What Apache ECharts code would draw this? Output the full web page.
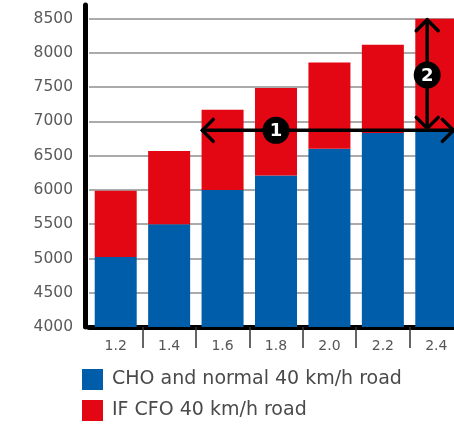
<!DOCTYPE html>
<html>
<head>
<meta charset="utf-8">
<script src="https://cdn.jsdelivr.net/npm/echarts@6/dist/echarts.min.js"></script>
<style>
html,body{margin:0;padding:0;background:#fff;}
#c{width:454px;height:425px;}
</style>
</head>
<body>
<div id="c"></div>
<script>
const categories = ['1.2', '1.4', '1.6', '1.8', '2.0', '2.2', '2.4'];
const choNormal = [5020, 5500, 6000, 6210, 6600, 6830, 6870];
const ifCfo = [970, 1070, 1170, 1280, 1260, 1290, 1630];
const seriesNames = ['CHO and normal 40 km/h road', 'IF CFO 40 km/h road'];
const yMin = 4000, yMaxLabel = 8500, yInterval = 500;
// annotation anchors (data values)
const arrow1FromCat = '1.6', arrow1ToCat = '2.4', arrow1LabelCat = '1.8';
const arrow2Cat = '2.4';

const lastIdx = categories.length - 1;
const arrowLevel = choNormal[lastIdx];
const arrowTop = choNormal[lastIdx] + ifCfo[lastIdx];

const BLUE = '#005DAA', RED = '#E30613';
const FONT = 'DejaVu Sans';

function chevron(tipX, tipY, dx1, dy1, dx2, dy2) {
  return {
    type: 'polyline',
    shape: { points: [[tipX + dx1, tipY + dy1], [tipX, tipY], [tipX + dx2, tipY + dy2]] },
    style: { stroke: '#000', lineWidth: 3.5, fill: null, lineCap: 'round', lineJoin: 'round' }
  };
}
function badge(cx, cy, txt) {
  return [
    { type: 'circle', shape: { cx: cx, cy: cy, r: 13.5 }, style: { fill: '#000' } },
    { type: 'text', style: { x: cx, y: cy + 1, text: txt, fill: '#fff', font: 'bold 18px ' + FONT, align: 'center', verticalAlign: 'middle' } }
  ];
}
function legendFor(name, top) {
  return {
    data: [name],
    orient: 'vertical',
    left: 82, top: top,
    padding: 0,
    itemWidth: 21, itemHeight: 21,
    icon: 'rect',
    textStyle: { fontFamily: FONT, fontSize: 19, color: '#4a4a4a', padding: [0, 0, 0, 4] }
  };
}

const chart = echarts.init(document.getElementById('c'), null, { renderer: 'canvas' });
chart.setOption({
  animation: false,
  backgroundColor: '#fff',
  grid: { left: 89, width: 374, top: 5, bottom: 98, containLabel: false, outerBoundsMode: 'none' },
  legend: [legendFor(seriesNames[0], 369), legendFor(seriesNames[1], 400)],
  xAxis: {
    type: 'category',
    data: categories,
    axisLine: { lineStyle: { color: '#000', width: 5 } },
    axisTick: { show: true, length: 21, interval: function (i) { return i !== 0; }, lineStyle: { color: '#333', width: 1.5 } },
    axisLabel: { color: '#555', fontFamily: FONT, fontSize: 14, margin: 12, interval: 0 },
    splitLine: { show: false }
  },
  yAxis: {
    type: 'value',
    min: yMin,
    max: arrowTop + 200,
    interval: yInterval,
    offset: 4,
    axisLine: { show: true, lineStyle: { color: '#000', width: 5 } },
    axisTick: { show: false },
    axisLabel: {
      color: '#5a5a5a', fontFamily: FONT, fontSize: 15.5, margin: 12,
      showMaxLabel: false,
      formatter: function (v) { return v <= yMaxLabel ? String(v) : ''; }
    },
    splitLine: { show: true, showMaxLine: false, lineStyle: { color: '#aaa', width: 2 } }
  },
  series: [
    { name: seriesNames[0], type: 'bar', stack: 'total', data: choNormal, barWidth: 42, itemStyle: { color: BLUE } },
    { name: seriesNames[1], type: 'bar', stack: 'total', data: ifCfo, barWidth: 42, itemStyle: { color: RED } },
    {
      type: 'custom',
      name: 'annotations',
      data: [[0]],
      z: 10,
      silent: true,
      clip: false,
      renderItem: function (params, api) {
        const band = api.size([1, 0])[0];
        const y1 = api.coord([arrow1FromCat, arrowLevel])[1];
        const xs = api.coord([arrow1FromCat, arrowLevel])[0] - band * 0.38;
        const xe = api.coord([arrow1ToCat, arrowLevel])[0] + band * 0.32;
        const xl = api.coord([arrow1LabelCat, arrowLevel])[0];
        const x2 = api.coord([arrow2Cat, arrowLevel])[0] - band * 0.17;
        const yt = api.coord([arrow2Cat, arrowTop])[1] + 1;
        const ymid = (y1 + yt) / 2;
        const lineStyle = { stroke: '#000', lineWidth: 3.5, lineCap: 'round' };
        const children = [
          { type: 'line', shape: { x1: xs, y1: y1, x2: xe, y2: y1 }, style: lineStyle },
          chevron(xs, y1, 11, -11, 11, 11),
          chevron(xe, y1, -11, -11, -11, 11),
          { type: 'line', shape: { x1: x2, y1: yt, x2: x2, y2: y1 - 2 }, style: lineStyle },
          chevron(x2, yt, -11, 11, 11, 11),
          chevron(x2, y1 - 2, -11, -11, 11, -11)
        ].concat(badge(xl, y1, '1')).concat(badge(x2, ymid, '2'));
        return { type: 'group', children: children };
      }
    }
  ]
});
</script>
</body>
</html>
